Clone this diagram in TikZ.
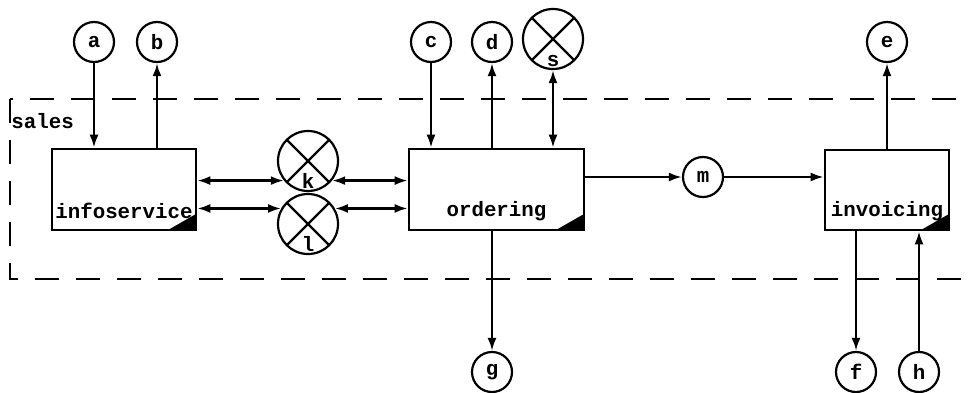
\documentclass[tikz,border=0pt]{standalone}
\usepackage{fontspec}
\setmonofont{Liberation Mono}
\usepackage{tikz}
\usetikzlibrary{arrows.meta,positioning,calc}

\begin{document}
\begin{tikzpicture}[
    x=0.5pt, y=-0.5pt,
    every node/.style={font=\ttfamily\bfseries\fontsize{10.4}{12}\selectfont},
    flow/.style={line width=1.2pt, -{Latex[length=6.5pt,width=4.5pt]}},
    twoway/.style={line width=1.2pt, {Latex[length=6.5pt,width=4.5pt]}-{Latex[length=6.5pt,width=4.5pt]}},
    port/.style={circle, draw, line width=1.1pt, minimum size=20pt, inner sep=0pt},
    store/.style={circle, draw, line width=1.1pt, minimum size=30pt, inner sep=0pt,
        path picture={\draw[line width=1.1pt] (path picture bounding box.north west) -- (path picture bounding box.south east)
            (path picture bounding box.north east) -- (path picture bounding box.south west);}},
    proc/.style={rectangle, draw, line width=1.3pt, inner sep=0pt,
        path picture={\fill (path picture bounding box.south east) -- ++(-14pt,0) -- ++(14pt,8pt) -- cycle;}},
    proclabel/.style={inner sep=0pt}
]
    \useasboundingbox (0,0) rectangle (969,392);

    % the sales boundary
    \draw[line width=1.3pt, dash pattern=on 12pt off 8.5pt] (10,99) rectangle (1000,279);
    \node[anchor=west, inner sep=0pt] (sales) at (11,121) {sales};

    % processes
    \node[proc, minimum width=72pt, minimum height=40.5pt] (info) at (124,189.5) {};
    \node[proclabel] at ([yshift=10pt]info.south) {infoservice};
    \node[proc, minimum width=87.5pt, minimum height=40.5pt] (ordering) at (496.5,189.5) {};
    \node[proclabel] at ([yshift=10pt]ordering.south) {ordering};
    \node[proc, minimum width=62pt, minimum height=40pt] (invoicing) at (887,190) {};
    \node[proclabel] at ([yshift=10pt]invoicing.south) {invoicing};

    % external ports
    \node[port] (a) at (94,42) {a};
    \node[port] (b) at (157,42) {b};
    \node[port] (c) at (431,42) {c};
    \node[port] (d) at (492,42) {d};
    \node[port] (e) at (887,42) {e};
    \node[port] (m) at (703,177) {m};
    \node[port] (g) at (492,372) {g};
    \node[port] (f) at (856,372) {f};
    \node[port] (h) at (919,372) {h};

    % data stores
    \node[store, label={[anchor=south, inner sep=1.5pt]south:s}] (s) at (553,39) {};
    \node[store, label={[anchor=south, inner sep=1.5pt]south:k}] (k) at (308,161) {};
    \node[store, label={[anchor=south, inner sep=1.5pt]south:l}] (l) at (308,224) {};

    % flows
    \draw[flow] (a) -- (a |- info.north);
    \draw[flow] (b |- info.north) -- (b);
    \draw[flow] (c) -- (c |- ordering.north);
    \draw[flow] (d |- ordering.north) -- (d);
    \draw[twoway] (s) -- (s |- ordering.north);
    \draw[twoway] (info.east |- k.219) -- (k.219);
    \draw[twoway] (k.321) -- (ordering.west |- k.321);
    \draw[twoway] (info.east |- l.150) -- (l.150);
    \draw[twoway] (l.30) -- (ordering.west |- l.30);
    \draw[flow] (ordering.east |- m) -- (m);
    \draw[flow] (m) -- (invoicing.west |- m);
    \draw[flow] (g |- ordering.south) -- (g);
    \draw[flow] (e |- invoicing.north) -- (e);
    \draw[flow] (f |- invoicing.south) -- (f);
    \draw[flow] (h) -- (h |- invoicing.south);
\end{tikzpicture}
\end{document}
